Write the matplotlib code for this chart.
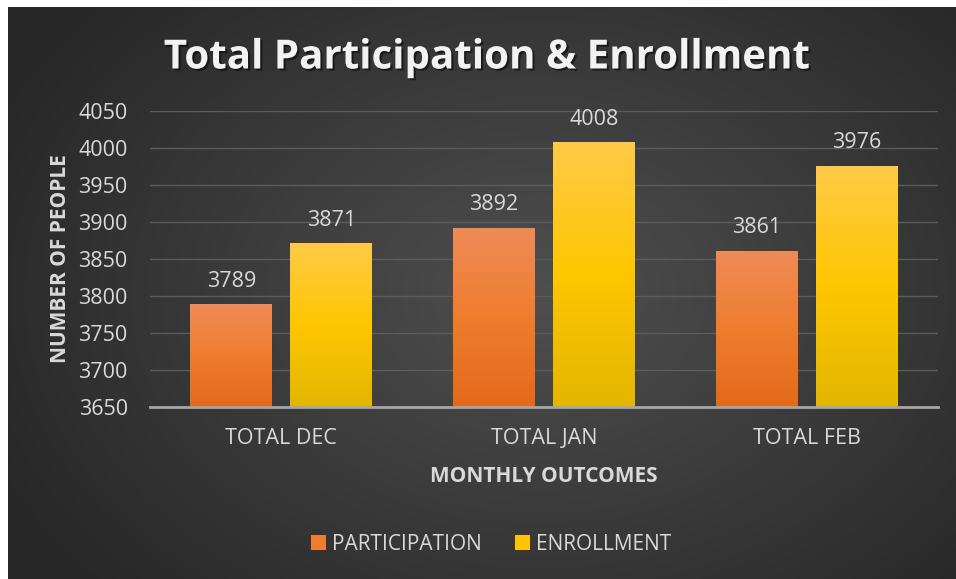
import numpy as np
import matplotlib
matplotlib.use("Agg")
import matplotlib.pyplot as plt
from matplotlib.colors import LinearSegmentedColormap
import matplotlib.patheffects as pe
from matplotlib.patches import Patch

categories = ["TOTAL DEC", "TOTAL JAN", "TOTAL FEB"]
participation = [3789, 3892, 3861]
enrollment = [3871, 4008, 3976]
series_names = ["PARTICIPATION", "ENROLLMENT"]
yticks = [3650, 3700, 3750, 3800, 3850, 3900, 3950, 4000, 4050]

plt.rcParams['font.family'] = ['Open Sans', 'DejaVu Sans']

W, H = 956, 579
fig = plt.figure(figsize=(W / 100, H / 100), dpi=100, facecolor="white")

# background radial gradient
bg = fig.add_axes([8 / W, 0, (W - 8) / W, (H - 7) / H], zorder=-10)
yy, xx = np.mgrid[0:300, 0:500]
cx, cy = 280, 150
r = np.sqrt(((xx - cx) / 320) ** 2 + ((yy - cy) / 230) ** 2)
r = np.clip(r, 0, 1)
bgcmap = LinearSegmentedColormap.from_list("bg", ["#4f4f4f", "#3b3b3b", "#272727"])
bg.imshow(r, cmap=bgcmap, aspect="auto", extent=[0, 1, 0, 1], vmin=0, vmax=1)
bg.set_axis_off()

ax = fig.add_axes([150 / W, 1 - 407 / H, 788 / W, 296 / H])
ax.set_facecolor("none")
ax.patch.set_alpha(0)

x = np.arange(len(categories))
width = 0.312
off = 0.19
b1 = ax.bar(x - off, participation, width, color="#ec7a30", zorder=3)
b2 = ax.bar(x + off, enrollment, width, color="#ffc600", zorder=3)

pcmap = LinearSegmentedColormap.from_list("p", ["#e4691b", "#ee7d2e", "#f08b58"])
ecmap = LinearSegmentedColormap.from_list("e", ["#e3b600", "#ffc600", "#ffca48"])
grad = np.linspace(0, 1, 256).reshape(-1, 1)
for bars, cm in ((b1, pcmap), (b2, ecmap)):
    for p in bars:
        x0, y0 = p.get_x(), p.get_y()
        w, h = p.get_width(), p.get_height()
        im = ax.imshow(grad, cmap=cm, origin="lower", aspect="auto",
                       extent=[x0, x0 + w, 3650, y0 + h], zorder=3.5)
        im.set_clip_path(p)
ax.set_xlim(-0.5, 2.5)
ax.set_ylim(3650, 4050)

for bars, vals in ((b1, participation), (b2, enrollment)):
    for p, v in zip(bars, vals):
        ax.annotate(str(v), (p.get_x() + p.get_width() / 2, v), xytext=(0, 9),
                    textcoords="offset points", ha="center", va="bottom",
                    color="#d9d9d9", fontsize=15.5)

ax.set_yticks(yticks)
ax.grid(axis="y", color="#5c5c5c", linewidth=1.0, zorder=0)
ax.set_axisbelow(True)
ax.set_xticks(x)
ax.set_xticklabels(categories)
ax.tick_params(axis="both", length=0, colors="#d9d9d9", labelsize=15.5)
ax.tick_params(axis="x", pad=15)
ax.tick_params(axis="y", pad=16)
for s in ("top", "right", "left"):
    ax.spines[s].set_visible(False)
ax.spines["bottom"].set_color("#a6a6a6")
ax.spines["bottom"].set_linewidth(2)
ax.spines["bottom"].set_zorder(5)

ax.set_xlabel("MONTHLY OUTCOMES", color="#d9d9d9", fontsize=15, fontweight="bold", labelpad=12)
ax.set_ylabel("NUMBER OF PEOPLE", color="#d9d9d9", fontsize=15, fontweight="bold", labelpad=5)

fig.text(486 / W, 1 - 58 / H, "Total Participation & Enrollment", ha="center", va="center",
         color="#f2f2f2", fontsize=29, fontweight="bold",
         path_effects=[pe.withSimplePatchShadow(offset=(1.5, -1.5), shadow_rgbFace="black", alpha=0.5)])

handles = [Patch(facecolor="#ee7d2e", label=series_names[0]),
           Patch(facecolor="#ffc600", label=series_names[1])]
leg = fig.legend(handles=handles, loc="center", bbox_to_anchor=(491 / W, 1 - 544 / H), ncol=2,
                 frameon=False, fontsize=15, labelcolor="#d9d9d9", handlelength=0.7,
                 handleheight=0.7, handletextpad=0.3, columnspacing=1.6)

fig.savefig("out.png", dpi=100, facecolor="white")
